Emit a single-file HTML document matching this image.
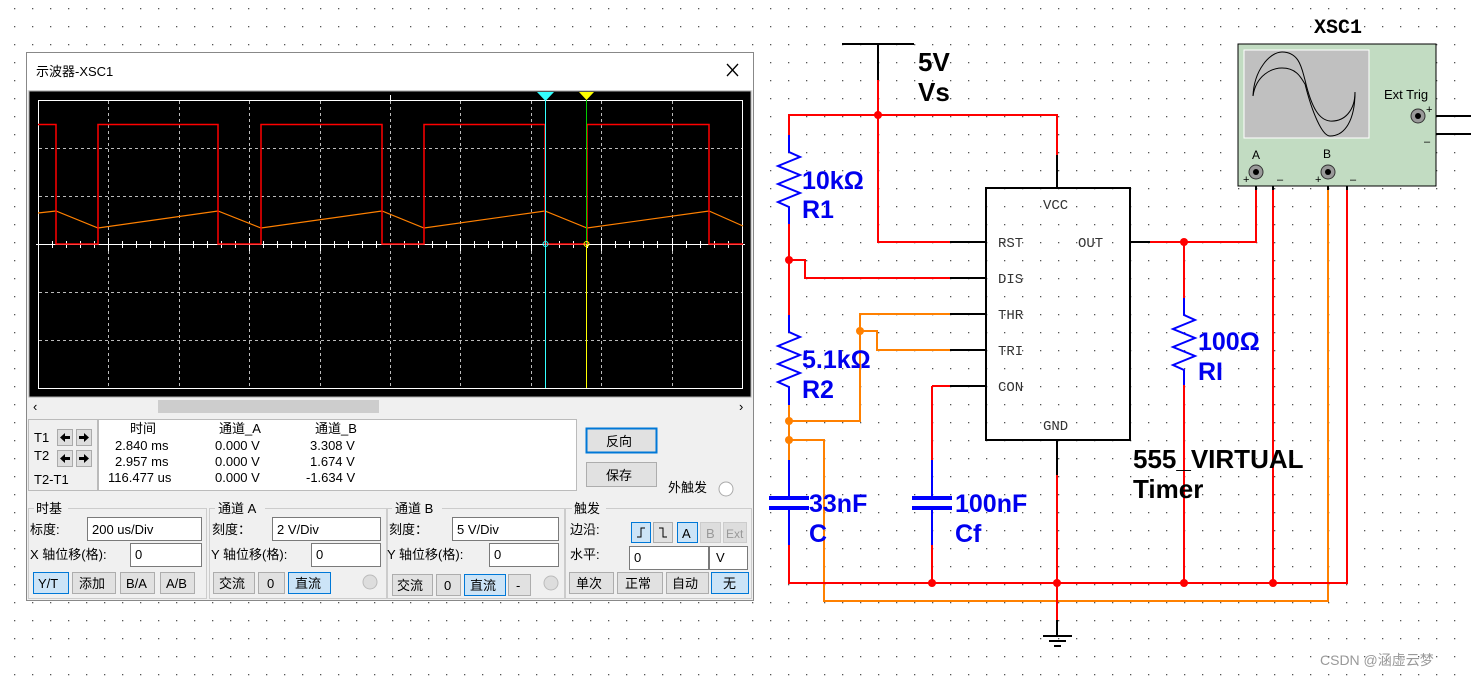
<!DOCTYPE html>
<html><head><meta charset="utf-8"><style>
html,body{margin:0;padding:0;background:#fff;}
svg{display:block;}
.t{font-family:"Liberation Sans","Noto Sans CJK SC",sans-serif;font-size:13px;fill:#000;}
.m{font-family:"Liberation Mono",monospace;font-size:14px;fill:#333;}
.b{font-family:"Liberation Sans",sans-serif;font-weight:bold;font-size:25px;fill:#0000ee;}
.k{font-family:"Liberation Sans",sans-serif;font-weight:bold;font-size:26px;fill:#000;}
</style></head><body>
<svg width="1471" height="677" viewBox="0 0 1471 677" xmlns="http://www.w3.org/2000/svg">
<defs>
<pattern id="dots" x="14" y="8" width="18" height="18" patternUnits="userSpaceOnUse"><rect x="0" y="0" width="1.3" height="1.3" fill="#555"/></pattern>
</defs>
<rect width="1471" height="677" fill="#fff"/>
<rect width="1471" height="677" fill="url(#dots)"/>

<!-- ===== CIRCUIT ===== -->
<g fill="none" stroke-width="2">
<path d="M842 44H914M878 44V80" stroke="#000"/>
<path d="M878 80V242H950" stroke="#f00"/>
<path d="M950 242H986" stroke="#000"/>
<path d="M789 135V115H1057V155" stroke="#f00"/>
<path d="M1057 155V188" stroke="#000"/>
<path d="M789 135V152L800 157L778 166L800 175L778 184L800 193L778 202L789 207V224" stroke="#00f"/>
<path d="M789 224V315" stroke="#f00"/>
<path d="M789 260H805V278H950" stroke="#f00"/>
<path d="M950 278H986M950 314H986M950 350H986M950 386H986" stroke="#000"/>
<path d="M789 315V332L800 337L778 346L800 355L778 364L800 373L778 382L789 387V405" stroke="#00f"/>
<path d="M789 405V460M789 421H860V314H950M860 331H877V350H950M789 440H824V601H1328V171" stroke="#ff8000"/>
<path d="M789 460V498M789 508V545" stroke="#00f"/>
<path d="M769 498H809M769 508H809" stroke="#00f" stroke-width="4"/>
<path d="M789 545V583H1347V171" stroke="#f00"/>
<path d="M932 386V460" stroke="#f00"/>
<path d="M932 386H950" stroke="#f00"/>
<path d="M932 460V498M932 508V545" stroke="#00f"/>
<path d="M912 498H952M912 508H952" stroke="#00f" stroke-width="4"/>
<path d="M932 545V583" stroke="#f00"/>
<path d="M1057 440V475" stroke="#000"/>
<path d="M1057 475V620" stroke="#f00"/>
<path d="M1057 620V635M1043 636H1072M1049 641H1066M1054 646H1061" stroke="#000"/>
<path d="M1130 242H1150" stroke="#000"/>
<path d="M1150 242H1256V171" stroke="#f00"/>
<path d="M1184 242V298" stroke="#f00"/>
<path d="M1184 298V315L1195 320L1173 329L1195 338L1173 347L1195 356L1173 365L1184 370V385" stroke="#00f"/>
<path d="M1184 385V583M1273 183V583" stroke="#f00"/>
<path d="M1256 171V190M1328 171V190" stroke="#000"/>
<path d="M1262 171H1273V190M1334 171H1347V190" stroke="#000"/>
<path d="M1418 116H1471M1418 116V134H1471" stroke="#000"/>
</g>
<rect x="986" y="188" width="144" height="252" fill="none" stroke="#000" stroke-width="2"/>
<g class="m">
<text x="1043" y="209">VCC</text><text x="998" y="247">RST</text><text x="1078" y="247">OUT</text>
<text x="998" y="283">DIS</text><text x="998" y="319">THR</text><text x="998" y="355">TRI</text>
<text x="998" y="391">CON</text><text x="1043" y="430">GND</text>
</g>
<g fill="#f00"><circle cx="878" cy="115" r="4"/><circle cx="789" cy="260" r="4"/><circle cx="932" cy="583" r="4"/><circle cx="1057" cy="583" r="4"/><circle cx="1184" cy="583" r="4"/><circle cx="1273" cy="583" r="4"/><circle cx="1184" cy="242" r="4"/></g>
<g fill="#ff8000"><circle cx="789" cy="421" r="4"/><circle cx="789" cy="440" r="4"/><circle cx="860" cy="331" r="4"/></g>
<text class="k" x="918" y="71">5V</text><text class="k" x="918" y="101">Vs</text>
<text class="b" x="802" y="189">10kΩ</text><text class="b" x="802" y="218">R1</text>
<text class="b" x="802" y="368">5.1kΩ</text><text class="b" x="802" y="398">R2</text>
<text class="b" x="1198" y="350">100Ω</text><text class="b" x="1198" y="380">RI</text>
<text class="b" x="809" y="512">33nF</text><text class="b" x="809" y="542">C</text>
<text class="b" x="955" y="512">100nF</text><text class="b" x="955" y="542">Cf</text>
<text class="k" x="1133" y="468">555_VIRTUAL</text><text class="k" x="1133" y="498">Timer</text>
<text x="1314" y="33" font-family="Liberation Mono,monospace" font-weight="bold" font-size="20">XSC1</text>
<rect x="1238" y="44" width="198" height="142" fill="#c2dcc2" stroke="#000" stroke-width="1"/>
<rect x="1244" y="50" width="125" height="88" fill="#c0c0c0" stroke="#fff" stroke-width="1"/>
<path d="M1253 96C1254 70 1270 52 1282 52C1300 52 1302 70 1305 80C1312 110 1320 120 1330 121C1345 122 1355 110 1355 92" fill="none" stroke="#000"/>
<path d="M1253 96C1256 75 1272 68 1282 68C1298 68 1302 80 1305 84C1312 112 1322 136 1330 136C1345 136 1355 120 1355 92" fill="none" stroke="#000"/>
<text x="1384" y="99" font-family="Liberation Sans,sans-serif" font-size="13">Ext Trig</text>
<text x="1252" y="159" font-family="Liberation Sans,sans-serif" font-size="12">A</text>
<text x="1323" y="158" font-family="Liberation Sans,sans-serif" font-size="12">B</text>
<g font-family="Liberation Sans,sans-serif" font-size="11"><text x="1243" y="183">+</text><text x="1277" y="183">–</text><text x="1315" y="183">+</text><text x="1350" y="183">–</text><text x="1426" y="113">+</text><text x="1424" y="145">–</text></g>
<g fill="#999" stroke="#333"><circle cx="1256" cy="172" r="7"/><circle cx="1328" cy="172" r="7"/><circle cx="1418" cy="116" r="7"/></g>
<g fill="#000"><circle cx="1256" cy="172" r="3"/><circle cx="1328" cy="172" r="3"/><circle cx="1418" cy="116" r="3"/></g>
<text x="1320" y="665" font-family="Liberation Sans,'Noto Sans CJK SC',sans-serif" font-size="14" fill="#999">CSDN @涵虚云梦</text>

<!-- ===== SCOPE WINDOW ===== -->
<rect x="26.5" y="52.5" width="727" height="548" fill="#f0f0f0" stroke="#888"/>
<rect x="27" y="53" width="726" height="37" fill="#fff"/>
<text x="36" y="76" class="t" font-size="14">示波器-XSC1</text>
<path d="M727 64L738 76M738 64L727 76" stroke="#000" stroke-width="1.3"/>
<rect x="29" y="91" width="722" height="306" fill="#000" stroke="#aaa"/>
<g stroke="#bbb" stroke-dasharray="3 3" stroke-width="1">
<path d="M108.5 101V388M179.5 101V388M249.5 101V388M320.5 101V388M390.5 101V388M460.5 101V388M531.5 101V388M601.5 101V388M672.5 101V388"/>
<path d="M39 148.5H742M39 196.5H742M39 292.5H742M39 340.5H742"/>
</g>
<rect x="38.5" y="100.5" width="704" height="288" fill="none" stroke="#fff"/>
<path d="M36 244.5H745" stroke="#fff"/>
<path d="M390.5 95V101" stroke="#fff"/>
<g stroke="#fff"><path d="M52.5 241V248M66.5 241V248M80.5 241V248M94.5 241V248M122.5 241V248M136.5 241V248M150.5 241V248M164.5 241V248M193.5 241V248M207.5 241V248M221.5 241V248M235.5 241V248M263.5 241V248M277.5 241V248M291.5 241V248M305.5 241V248M334.5 241V248M348.5 241V248M362.5 241V248M376.5 241V248M404.5 241V248M418.5 241V248M432.5 241V248M446.5 241V248M474.5 241V248M488.5 241V248M502.5 241V248M516.5 241V248M545.5 241V248M559.5 241V248M573.5 241V248M587.5 241V248M615.5 241V248M629.5 241V248M643.5 241V248M657.5 241V248M686.5 241V248M700.5 241V248M714.5 241V248M728.5 241V248M108.5 238V251M179.5 238V251M249.5 238V251M320.5 238V251M460.5 238V251M531.5 238V251M601.5 238V251M672.5 238V251"/></g>
<polyline fill="none" stroke="#ff8000" stroke-width="1.2" points="38,213 56,211 98,228 218,211 261,228 382,211 424,228 545,211 587,228 709,211 743,226"/>
<polyline fill="none" stroke="#f00" stroke-width="1.5" points="38,124.5 56,124.5 56,244 98,244 98,124.5 218,124.5 218,244 261,244 261,124.5 382,124.5 382,244 424,244 424,124.5 545,124.5 545,244 587,244 587,124.5 709,124.5 709,244 743,244"/>
<path d="M545.5 100V388" stroke="#3ff" stroke-width="1"/>
<path d="M586.5 100V388" stroke="#ff0" stroke-width="1"/>
<path d="M586.5 100V244" stroke="#0c0" stroke-width="1"/>
<path d="M537 92H554L545.5 101Z" fill="#3ff"/>
<path d="M579 92H594L586.5 100Z" fill="#ff0"/>
<circle cx="545.5" cy="244" r="2.5" fill="none" stroke="#3ff"/><circle cx="586.5" cy="244" r="2.5" fill="none" stroke="#ff0"/>
<rect x="28" y="398" width="724" height="17" fill="#f0f0f0"/>
<rect x="158" y="400" width="221" height="13" fill="#cdcdcd"/>
<text x="33" y="411" class="t" fill="#666" font-size="12">‹</text><text x="739" y="411" class="t" fill="#666" font-size="12">›</text>
<rect x="28.5" y="419.5" width="69" height="71" fill="#f0f0f0" stroke="#bbb"/>
<text x="34" y="442" class="t">T1</text><text x="34" y="460" class="t">T2</text><text x="34" y="484" class="t">T2-T1</text>
<g fill="#ddd" stroke="#aaa"><rect x="57.5" y="429.5" width="15" height="16"/><rect x="76.5" y="429.5" width="15" height="16"/><rect x="57.5" y="450.5" width="15" height="16"/><rect x="76.5" y="450.5" width="15" height="16"/></g>
<g fill="#000"><path d="M60 437.5L65 433V442ZM65 436H70V439H65ZM89 437.5L84 433V442ZM79 436H84V439H79Z"/><path d="M60 458.5L65 454V463ZM65 457H70V460H65ZM89 458.5L84 454V463ZM79 457H84V460H79Z"/></g>
<rect x="98.5" y="419.5" width="478" height="71" fill="#fff" stroke="#bbb"/>
<g class="t" font-size="12">
<text x="130" y="433">时间</text><text x="219" y="433">通道_A</text><text x="315" y="433">通道_B</text>
<text x="115" y="450">2.840 ms</text><text x="215" y="450">0.000 V</text><text x="310" y="450">3.308 V</text>
<text x="115" y="466">2.957 ms</text><text x="215" y="466">0.000 V</text><text x="310" y="466">1.674 V</text>
<text x="108" y="482">116.477 us</text><text x="215" y="482">0.000 V</text><text x="306" y="482">-1.634 V</text>
</g>
<rect x="586.5" y="428.5" width="70" height="24" fill="#e1e1e1" stroke="#0078d7" stroke-width="2"/>
<text x="606" y="446" class="t" font-size="14">反向</text>
<rect x="586.5" y="462.5" width="70" height="24" fill="#e1e1e1" stroke="#adadad"/>
<text x="606" y="480" class="t" font-size="14">保存</text>
<text x="668" y="492" class="t" font-size="14">外触发</text>
<circle cx="726" cy="489" r="7" fill="#fff" stroke="#aaa"/>
<g fill="none" stroke="#ccc"><rect x="28.5" y="508.5" width="178" height="90"/><rect x="209.5" y="508.5" width="178" height="90"/><rect x="386.5" y="508.5" width="178" height="90"/><rect x="565.5" y="508.5" width="186" height="90"/></g>
<g fill="#f0f0f0"><rect x="34" y="501" width="34" height="14"/><rect x="215" y="501" width="50" height="14"/><rect x="392" y="501" width="50" height="14"/><rect x="572" y="501" width="34" height="14"/></g>
<g class="t" font-size="14">
<text x="36" y="513">时基</text><text x="218" y="513">通道 A</text><text x="395" y="513">通道 B</text><text x="574" y="513">触发</text>
<text x="30" y="534">标度:</text><text x="30" y="559">X 轴位移(格):</text>
<text x="212" y="534">刻度：</text><text x="211" y="559">Y 轴位移(格):</text>
<text x="389" y="534">刻度：</text><text x="387" y="559">Y 轴位移(格):</text>
<text x="570" y="534">边沿:</text><text x="570" y="559">水平:</text>
</g>
<g fill="#fff" stroke="#7a7a7a"><rect x="87.5" y="517.5" width="114" height="23"/><rect x="130.5" y="543.5" width="71" height="23"/><rect x="272.5" y="517.5" width="108" height="23"/><rect x="311.5" y="543.5" width="69" height="23"/><rect x="452.5" y="517.5" width="106" height="23"/><rect x="489.5" y="543.5" width="69" height="23"/><rect x="629.5" y="546.5" width="79" height="23"/><rect x="709.5" y="546.5" width="38" height="23"/></g>
<g class="t" font-size="13">
<text x="92" y="534">200 us/Div</text><text x="135" y="559">0</text><text x="277" y="534">2  V/Div</text><text x="316" y="559">0</text>
<text x="457" y="534">5  V/Div</text><text x="494" y="559">0</text><text x="634" y="562">0</text><text x="716" y="562">V</text>
</g>
<g stroke="#adadad" fill="#e1e1e1">
<rect x="72.5" y="572.5" width="43" height="21"/><rect x="120.5" y="572.5" width="34" height="21"/><rect x="160.5" y="572.5" width="34" height="21"/>
<rect x="213.5" y="572.5" width="41" height="21"/><rect x="258.5" y="572.5" width="26" height="21"/>
<rect x="392.5" y="574.5" width="40" height="21"/><rect x="436.5" y="574.5" width="24" height="21"/><rect x="508.5" y="574.5" width="22" height="21"/>
<rect x="653.5" y="522.5" width="19" height="20"/><rect x="700.5" y="522.5" width="20" height="20" fill="#ddd" stroke="#ccc"/><rect x="723.5" y="522.5" width="23" height="20" fill="#ddd" stroke="#ccc"/>
<rect x="569.5" y="572.5" width="44" height="21"/><rect x="617.5" y="572.5" width="45" height="21"/><rect x="666.5" y="572.5" width="42" height="21"/>
</g>
<g stroke="#0078d7" fill="#cce4f7">
<rect x="33.5" y="572.5" width="35" height="21"/><rect x="288.5" y="572.5" width="42" height="21"/><rect x="464.5" y="574.5" width="41" height="21"/>
<rect x="631.5" y="522.5" width="19" height="20"/><rect x="677.5" y="522.5" width="20" height="20"/><rect x="711.5" y="572.5" width="37" height="21"/>
</g>
<g class="t" font-size="14">
<text x="38" y="588" font-size="13">Y/T</text><text x="79" y="588">添加</text><text x="126" y="588" font-size="13">B/A</text><text x="166" y="588" font-size="13">A/B</text>
<text x="219" y="588">交流</text><text x="267" y="588" font-size="13">0</text><text x="295" y="588">直流</text>
<text x="397" y="590">交流</text><text x="444" y="590" font-size="13">0</text><text x="470" y="590">直流</text><text x="516" y="590" font-size="13">-</text>
<text x="682" y="538" font-size="13">A</text><text x="706" y="538" font-size="13" fill="#999">B</text><text x="726" y="538" font-size="12" fill="#999">Ext</text>
<text x="576" y="588">单次</text><text x="625" y="588">正常</text><text x="672" y="588">自动</text><text x="723" y="588">无</text>
</g>
<path d="M637 537H641V528H645" fill="none" stroke="#000"/><path d="M659 528H663V537H667" fill="none" stroke="#000"/>
<g fill="#ddd" stroke="#bbb"><circle cx="370" cy="582" r="7"/><circle cx="551" cy="583" r="7"/></g>
</svg>
</body></html>
